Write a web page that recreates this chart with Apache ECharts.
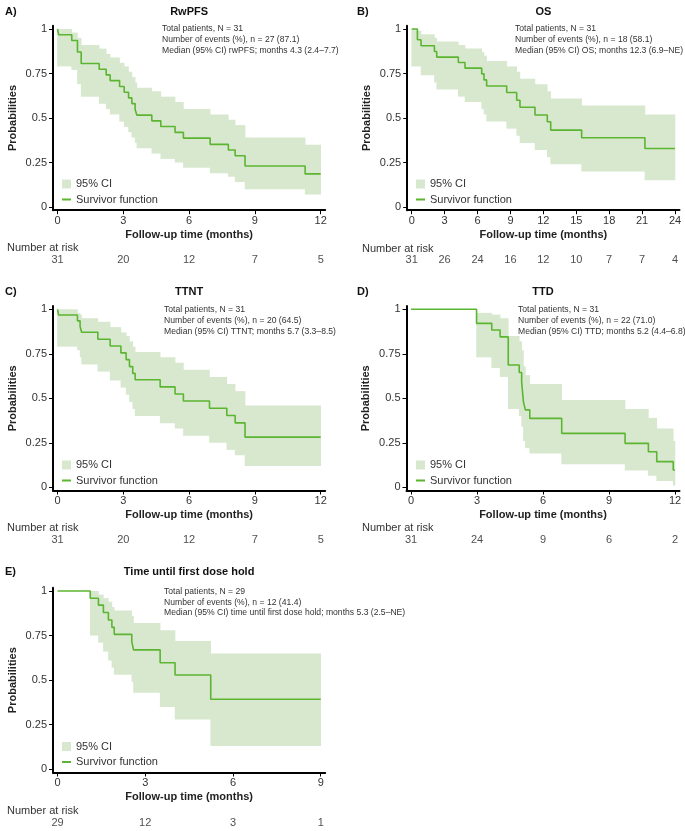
<!doctype html>
<html>
<head>
<meta charset="utf-8">
<script src="https://cdn.jsdelivr.net/npm/echarts@6/dist/echarts.min.js"></script>
</head>
<body style="margin:0; background:#fff">
<div id="container" style="width:685px; height:831px"></div>
<script>
// A) RwPFS
var pfsTime = [0, 0.05, 0.65, 0.91, 1.08, 1.9, 2.22, 2.4, 2.83, 3.04, 3.24, 3.39, 3.54, 3.62, 4.3, 4.71, 5.36, 5.74, 6.96, 7.79, 8.1, 8.55, 11.29, 12];
var pfsSurv = [1, 0.968, 0.935, 0.871, 0.806, 0.774, 0.742, 0.710, 0.677, 0.645, 0.613, 0.581, 0.548, 0.516, 0.484, 0.452, 0.419, 0.387, 0.352, 0.320, 0.288, 0.230, 0.186, 0.186];
var pfsLow  = [0.79, 0.79, 0.77, 0.69, 0.62, 0.58, 0.55, 0.52, 0.48, 0.45, 0.42, 0.39, 0.36, 0.33, 0.30, 0.27, 0.25, 0.22, 0.19, 0.17, 0.14, 0.10, 0.07, 0.07];
var pfsHigh = [1, 1, 0.98, 0.95, 0.91, 0.89, 0.86, 0.84, 0.81, 0.79, 0.76, 0.73, 0.70, 0.67, 0.65, 0.62, 0.59, 0.55, 0.52, 0.49, 0.46, 0.39, 0.35, 0.35];
var pfsRiskTime = [0, 3, 6, 9, 12];
var pfsRisk = [31, 20, 12, 7, 5];

// B) OS
var osTime = [0, 0.52, 0.85, 2.07, 2.28, 4.25, 4.86, 6.38, 6.59, 6.83, 8.66, 9.57, 9.87, 11.24, 12.36, 12.67, 15.49, 21.26, 24];
var osSurv = [1, 0.94, 0.906, 0.874, 0.842, 0.812, 0.78, 0.748, 0.714, 0.68, 0.643, 0.60, 0.56, 0.517, 0.479, 0.432, 0.389, 0.329, 0.329];
var osLow  = [0.79, 0.79, 0.74, 0.70, 0.66, 0.62, 0.59, 0.55, 0.52, 0.48, 0.44, 0.40, 0.36, 0.32, 0.28, 0.24, 0.20, 0.15, 0.15];
var osHigh = [1, 0.99, 0.97, 0.95, 0.93, 0.91, 0.89, 0.87, 0.85, 0.82, 0.79, 0.76, 0.72, 0.69, 0.65, 0.61, 0.57, 0.52, 0.52];
var osRiskTime = [0, 3, 6, 9, 12, 15, 18, 21, 24];
var osRisk = [31, 26, 24, 16, 12, 10, 7, 7, 4];

// C) TTNT
var ttntTime = [0, 0.05, 0.91, 1.03, 1.1, 1.84, 2.4, 2.89, 3.13, 3.28, 3.43, 3.54, 4.68, 5.36, 5.74, 6.93, 7.72, 8.1, 8.55, 12];
var ttntSurv = [1, 0.968, 0.935, 0.903, 0.871, 0.832, 0.794, 0.755, 0.717, 0.678, 0.64, 0.604, 0.564, 0.524, 0.485, 0.444, 0.403, 0.362, 0.282, 0.282];
var ttntLow  = [0.79, 0.79, 0.77, 0.73, 0.69, 0.65, 0.60, 0.56, 0.52, 0.48, 0.44, 0.40, 0.36, 0.33, 0.29, 0.25, 0.21, 0.18, 0.12, 0.12];
var ttntHigh = [1, 1, 0.98, 0.97, 0.95, 0.93, 0.90, 0.87, 0.85, 0.82, 0.79, 0.76, 0.73, 0.70, 0.66, 0.62, 0.58, 0.54, 0.46, 0.46];
var ttntRiskTime = [0, 3, 6, 9, 12];
var ttntRisk = [31, 20, 12, 7, 5];

// D) TTD
var ttdTime = [0, 2.98, 3.67, 4.05, 4.42, 4.92, 5.03, 5.11, 5.2, 5.4, 6.85, 9.73, 10.79, 11.17, 11.92, 12];
var ttdSurv = [1, 0.921, 0.884, 0.845, 0.687, 0.645, 0.59, 0.48, 0.435, 0.387, 0.303, 0.247, 0.2, 0.144, 0.097, 0.097];
var ttdLow  = [1, 0.73, 0.67, 0.62, 0.44, 0.40, 0.34, 0.26, 0.22, 0.19, 0.13, 0.095, 0.065, 0.035, 0.01, 0.01];
var ttdHigh = [1, 0.98, 0.97, 0.95, 0.85, 0.82, 0.77, 0.68, 0.63, 0.58, 0.49, 0.44, 0.39, 0.33, 0.26, 0.26];
var ttdRiskTime = [0, 3, 6, 9, 12];
var ttdRisk = [31, 24, 9, 6, 2];

// E) Time until first dose hold
var holdTime = [0, 1.12, 1.4, 1.57, 1.74, 1.86, 1.94, 2.54, 2.6, 3.51, 4.02, 5.24, 9];
var holdSurv = [1, 0.959, 0.921, 0.879, 0.837, 0.796, 0.757, 0.716, 0.67, 0.598, 0.529, 0.393, 0.393];
var holdLow  = [1, 0.75, 0.71, 0.66, 0.61, 0.57, 0.53, 0.49, 0.43, 0.35, 0.28, 0.13, 0.13];
var holdHigh = [1, 1, 0.98, 0.96, 0.94, 0.91, 0.89, 0.86, 0.82, 0.78, 0.72, 0.65, 0.65];
var holdRiskTime = [0, 3, 6, 9];
var holdRisk = [29, 12, 3, 1];

var yTicks = [0, 0.25, 0.5, 0.75, 1];
var lineColor = '#5cb531';
var bandColor = '#d7e8cf';
var font = '"Liberation Sans", Arial, sans-serif';

var panels = [
    {letter: 'A)', title: 'RwPFS', time: pfsTime, surv: pfsSurv, low: pfsLow, high: pfsHigh,
     riskTime: pfsRiskTime, risk: pfsRisk, xMax: 12, xTicks: [0, 3, 6, 9, 12],
     notes: ['Total patients, N = 31', 'Number of events (%), n = 27 (87.1)', 'Median (95% CI) rwPFS; months 4.3 (2.4\u20137.7)'],
     box: {x0: 57.5, x1: 320.7, y1: 29, y0: 207}, titleY: 12, letterX: 5, noteX: 162, noteY: 29,
     legendX: 62, legendY: 184, riskLabelX: 7, riskLabelY: 248, riskY: 260},
    {letter: 'B)', title: 'OS', time: osTime, surv: osSurv, low: osLow, high: osHigh,
     riskTime: osRiskTime, risk: osRisk, xMax: 24, xTicks: [0, 3, 6, 9, 12, 15, 18, 21, 24],
     notes: ['Total patients, N = 31', 'Number of events (%), n = 18 (58.1)', 'Median (95% CI) OS; months 12.3 (6.9\u2013NE)'],
     box: {x0: 411.7, x1: 675, y1: 29, y0: 207}, titleY: 12, letterX: 357, noteX: 515, noteY: 29,
     legendX: 416, legendY: 184, riskLabelX: 362, riskLabelY: 249, riskY: 260},
    {letter: 'C)', title: 'TTNT', time: ttntTime, surv: ttntSurv, low: ttntLow, high: ttntHigh,
     riskTime: ttntRiskTime, risk: ttntRisk, xMax: 12, xTicks: [0, 3, 6, 9, 12],
     notes: ['Total patients, N = 31', 'Number of events (%), n = 20 (64.5)', 'Median (95% CI) TTNT; months 5.7 (3.3\u20138.5)'],
     box: {x0: 57.5, x1: 320.7, y1: 309.3, y0: 487.3}, titleY: 292, letterX: 5, noteX: 164, noteY: 310,
     legendX: 62, legendY: 465, riskLabelX: 7, riskLabelY: 528, riskY: 540},
    {letter: 'D)', title: 'TTD', time: ttdTime, surv: ttdSurv, low: ttdLow, high: ttdHigh,
     riskTime: ttdRiskTime, risk: ttdRisk, xMax: 12, xTicks: [0, 3, 6, 9, 12],
     notes: ['Total patients, N = 31', 'Number of events (%), n = 22 (71.0)', 'Median (95% CI) TTD; months 5.2 (4.4\u20136.8)'],
     box: {x0: 411, x1: 675, y1: 309.3, y0: 487.3}, titleY: 292, letterX: 357, noteX: 518, noteY: 310,
     legendX: 416, legendY: 465, riskLabelX: 362, riskLabelY: 528, riskY: 540},
    {letter: 'E)', title: 'Time until first dose hold', time: holdTime, surv: holdSurv, low: holdLow, high: holdHigh,
     riskTime: holdRiskTime, risk: holdRisk, xMax: 9, xTicks: [0, 3, 6, 9],
     notes: ['Total patients, N = 29', 'Number of events (%), n = 12 (41.4)', 'Median (95% CI) time until first dose hold; months 5.3 (2.5\u2013NE)'],
     box: {x0: 57.5, x1: 320.7, y1: 591, y0: 769.3}, titleY: 572, letterX: 5, noteX: 164, noteY: 591.7,
     legendX: 62, legendY: 746.5, riskLabelX: 7, riskLabelY: 810.7, riskY: 822.7}
];

function renderBand(params, api) {
    var p0 = api.coord([api.value(0), api.value(3)]);
    var p1 = api.coord([api.value(1), api.value(2)]);
    return {
        type: 'rect',
        shape: {x: p0[0] - 0.3, y: p0[1], width: p1[0] - p0[0] + 0.6, height: p1[1] - p0[1]},
        style: {fill: bandColor}
    };
}

var grid = [], xAxis = [], yAxis = [], series = [], legend = [], graphic = [];
var legendText = {fontSize: 11, color: '#333', fontFamily: font, lineHeight: 13};

panels.forEach(function (p, i) {
    var b = p.box;
    var xPad = p.xMax * 0.017, yPad = 0.018;
    var pxX = (b.x1 - b.x0) / p.xMax;
    var pxY = b.y0 - b.y1;
    var left = b.x0 - xPad * pxX;
    var width = (p.xMax + 2 * xPad) * pxX;

    grid.push({left: left, top: b.y1 - yPad * pxY, width: width, height: (1 + 2 * yPad) * pxY});
    grid.push({left: left, top: p.riskY - 5, width: width, height: 10});

    xAxis.push({
        gridIndex: 2 * i, type: 'value', min: -xPad, max: p.xMax + xPad,
        axisLine: {show: true, onZero: false, lineStyle: {color: '#000', width: 2}},
        axisTick: {show: true, customValues: p.xTicks, length: 4, lineStyle: {color: '#000', width: 1}},
        axisLabel: {customValues: p.xTicks, fontSize: 11, color: '#333', margin: 5, fontFamily: font},
        splitLine: {show: false},
        name: 'Follow-up time (months)', nameLocation: 'middle', nameGap: 19,
        nameTextStyle: {fontSize: 11, fontWeight: 'bold', color: '#222', fontFamily: font}
    });
    xAxis.push({gridIndex: 2 * i + 1, type: 'value', min: -xPad, max: p.xMax + xPad, show: false});

    yAxis.push({
        gridIndex: 2 * i, type: 'value', min: -yPad, max: 1 + yPad,
        axisLine: {show: true, onZero: false, lineStyle: {color: '#000', width: 2}},
        axisTick: {show: true, customValues: yTicks, length: 4, lineStyle: {color: '#000', width: 1}},
        axisLabel: {customValues: yTicks, fontSize: 11, color: '#333', margin: 6, fontFamily: font},
        splitLine: {show: false},
        name: 'Probabilities', nameLocation: 'middle', nameGap: 35,
        nameTextStyle: {fontSize: 11, fontWeight: 'bold', color: '#222', fontFamily: font}
    });
    yAxis.push({gridIndex: 2 * i + 1, type: 'value', min: 0, max: 1, show: false});

    var band = [];
    for (var k = 0; k < p.time.length - 1; k++) {
        band.push([p.time[k], p.time[k + 1], p.low[k], p.high[k]]);
    }
    series.push({
        type: 'custom', name: '95% CI', xAxisIndex: 2 * i, yAxisIndex: 2 * i,
        renderItem: renderBand, encode: {x: [0, 1], y: [2, 3]},
        itemStyle: {color: bandColor}, data: band, silent: true, z: 1
    });
    series.push({
        type: 'line', name: 'Survivor function', xAxisIndex: 2 * i, yAxisIndex: 2 * i,
        step: 'end', symbol: 'none', showSymbol: false,
        data: p.time.map(function (t, k) { return [t, p.surv[k]]; }),
        lineStyle: {color: lineColor, width: 1.6}, itemStyle: {color: lineColor},
        silent: true, z: 3
    });
    series.push({
        type: 'scatter', xAxisIndex: 2 * i + 1, yAxisIndex: 2 * i + 1,
        symbolSize: 0, silent: true,
        data: p.riskTime.map(function (t, k) { return [t, 0.5, p.risk[k]]; }),
        label: {show: true, position: 'inside', formatter: function (d) { return d.value[2]; },
                fontSize: 11, color: '#222', fontFamily: font}
    });

    // two legends so the line entry can get a flat icon
    legend.push({
        left: p.legendX, top: p.legendY - 6.5, padding: 0,
        itemWidth: 9, itemHeight: 9, selectedMode: false, textStyle: legendText,
        data: [{name: '95% CI', icon: 'rect'}]
    });
    legend.push({
        left: p.legendX, top: p.legendY + 15.5 - 6.5, padding: 0,
        itemWidth: 9, itemHeight: 2, selectedMode: false, textStyle: legendText,
        data: [{name: 'Survivor function', icon: 'rect', itemStyle: {color: lineColor}}]
    });

    var cx = (b.x0 + b.x1) / 2;
    graphic.push({type: 'text', x: p.letterX, y: p.titleY,
        style: {text: p.letter, font: 'bold 11px ' + font, fill: '#111', verticalAlign: 'middle'}});
    graphic.push({type: 'text', x: cx, y: p.titleY,
        style: {text: p.title, font: 'bold 11px ' + font, fill: '#111', align: 'center', verticalAlign: 'middle'}});
    p.notes.forEach(function (line, k) {
        graphic.push({type: 'text', x: p.noteX, y: p.noteY + k * 10.6,
            style: {text: line, font: '8.6px ' + font, fill: '#333', verticalAlign: 'middle'}});
    });
    graphic.push({type: 'text', x: p.riskLabelX, y: p.riskLabelY,
        style: {text: 'Number at risk', font: '11px ' + font, fill: '#333', verticalAlign: 'middle'}});
});

var myChart = echarts.init(document.getElementById('container'));
myChart.setOption({
    animation: false,
    grid: grid,
    xAxis: xAxis,
    yAxis: yAxis,
    legend: legend,
    graphic: graphic,
    series: series
});
</script>
</body>
</html>
